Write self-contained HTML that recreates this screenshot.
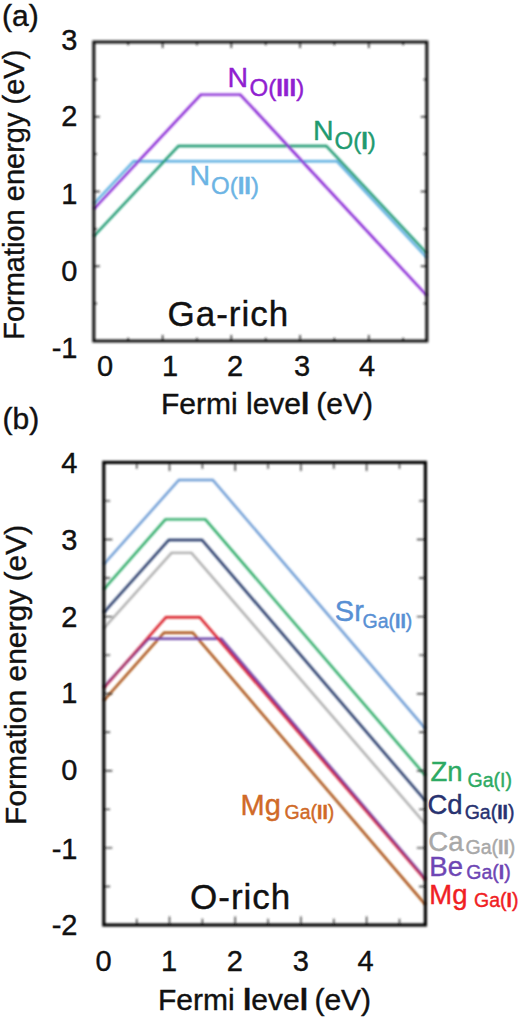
<!DOCTYPE html>
<html><head><meta charset="utf-8"><style>
html,body{margin:0;padding:0;background:#fff;}
body{width:520px;height:1019px;overflow:hidden;}
svg{display:block;}
text{font-family:"Liberation Sans", sans-serif;stroke-width:0.4;}
</style></head><body>
<svg width="520" height="1019" viewBox="0 0 520 1019">
<defs>
<filter id="bl"><feGaussianBlur stdDeviation="0.8"/></filter>
<filter id="bt"><feGaussianBlur stdDeviation="0.8"/></filter>
</defs>
<rect width="520" height="1019" fill="#fff"/>
<g filter="url(#bl)">
<polyline points="93.8,203.8 133.6,161.2 336.8,161.2 426.8,257.8" fill="none" stroke="#5aaee0" stroke-width="2.4" stroke-linejoin="miter"/>
<polyline points="93.8,236.2 178.5,146.0 326.3,146.0 426.8,253.2" fill="none" stroke="#14956a" stroke-width="2.4" stroke-linejoin="miter"/>
<polyline points="93.8,209.0 200.8,94.6 240.3,94.6 426.8,295.5" fill="none" stroke="#8420d4" stroke-width="2.4" stroke-linejoin="miter"/>
<polyline points="103.8,564.2 178.9,480.0 212.8,480.0 425.4,728.6" fill="none" stroke="#6a9ad4" stroke-width="2.4" stroke-linejoin="miter"/>
<polyline points="103.8,589.2 165.4,519.4 205.4,519.4 425.4,775.5" fill="none" stroke="#26a862" stroke-width="2.4" stroke-linejoin="miter"/>
<polyline points="103.8,628.3 171.5,552.9 191.5,552.9 425.4,824.0" fill="none" stroke="#adadad" stroke-width="2.4" stroke-linejoin="miter"/>
<polyline points="103.8,612.5 168.8,540.0 202.0,540.0 425.4,800.8" fill="none" stroke="#1e3364" stroke-width="2.4" stroke-linejoin="miter"/>
<polyline points="103.8,700.5 164.0,632.8 192.8,632.8 425.4,904.6" fill="none" stroke="#a84c08" stroke-width="2.4" stroke-linejoin="miter"/>
<polyline points="103.8,687.0 148.5,638.7 221.3,638.7 425.4,878.8" fill="none" stroke="#6c44a8" stroke-width="2.4" stroke-linejoin="miter"/>
<polyline points="103.8,688.0 166.0,617.3 199.7,617.3 425.4,880.0" fill="none" stroke="#d8141c" stroke-width="2.4" stroke-linejoin="miter"/>
<polyline points="103.8,687.0 148.5,638.7" fill="none" stroke="#6c44a8" stroke-width="2.4" stroke-linejoin="miter" stroke-opacity="0.5"/>
<polyline points="221.3,638.7 425.4,878.8" fill="none" stroke="#6c44a8" stroke-width="2.4" stroke-linejoin="miter" stroke-opacity="0.5"/>
</g>
<g filter="url(#bt)">
<path d="M93.8,79.4h3.2M426.8,79.4h-3.2M93.8,116.8h6.0M426.8,116.8h-6.0M93.8,154.1h3.2M426.8,154.1h-3.2M93.8,191.5h6.0M426.8,191.5h-6.0M93.8,228.9h3.2M426.8,228.9h-3.2M93.8,266.2h6.0M426.8,266.2h-6.0M93.8,303.6h3.2M426.8,303.6h-3.2M128.2,341.0v-3.2M128.2,42.0v3.2M162.6,341.0v-6.0M162.6,42.0v6.0M196.9,341.0v-3.2M196.9,42.0v3.2M231.3,341.0v-6.0M231.3,42.0v6.0M265.7,341.0v-3.2M265.7,42.0v3.2M300.1,341.0v-6.0M300.1,42.0v6.0M334.4,341.0v-3.2M334.4,42.0v3.2M368.8,341.0v-6.0M368.8,42.0v6.0M403.2,341.0v-3.2M403.2,42.0v3.2" stroke="#222" stroke-width="1.5" fill="none"/>
<rect x="93.8" y="42.0" width="333.0" height="299.0" fill="none" stroke="#111" stroke-width="3.0"/>
<path d="M103.8,500.9h6.3M425.4,500.9h-6.3M103.8,539.5h8.5M425.4,539.5h-8.5M103.8,578.0h6.3M425.4,578.0h-6.3M103.8,616.6h8.5M425.4,616.6h-8.5M103.8,655.1h6.3M425.4,655.1h-6.3M103.8,693.7h8.5M425.4,693.7h-8.5M103.8,732.2h6.3M425.4,732.2h-6.3M103.8,770.8h8.5M425.4,770.8h-8.5M103.8,809.4h6.3M425.4,809.4h-6.3M103.8,847.9h8.5M425.4,847.9h-8.5M103.8,886.5h6.3M425.4,886.5h-6.3M136.7,925.0v-6.3M136.7,462.4v6.3M169.5,925.0v-8.5M169.5,462.4v8.5M202.4,925.0v-6.3M202.4,462.4v6.3M235.2,925.0v-8.5M235.2,462.4v8.5M268.1,925.0v-6.3M268.1,462.4v6.3M300.9,925.0v-8.5M300.9,462.4v8.5M333.8,925.0v-6.3M333.8,462.4v6.3M366.6,925.0v-8.5M366.6,462.4v8.5M399.5,925.0v-6.3M399.5,462.4v6.3" stroke="#333" stroke-width="1.4" fill="none"/>
<rect x="103.8" y="462.4" width="321.6" height="462.6" fill="none" stroke="#000" stroke-width="3.2"/>
</g>
<g>
<text x="77.5" y="49.6" font-size="29" fill="#111" stroke="#111" text-anchor="end" >3</text>
<text x="77.5" y="126.4" font-size="29" fill="#111" stroke="#111" text-anchor="end" >2</text>
<text x="77.5" y="204.4" font-size="29" fill="#111" stroke="#111" text-anchor="end" >1</text>
<text x="77.5" y="281.4" font-size="29" fill="#111" stroke="#111" text-anchor="end" >0</text>
<text x="77.5" y="358.4" font-size="29" fill="#111" stroke="#111" text-anchor="end" >-1</text>
<text x="105" y="375.5" font-size="29" fill="#111" stroke="#111" text-anchor="middle" >0</text>
<text x="170" y="375.5" font-size="29" fill="#111" stroke="#111" text-anchor="middle" >1</text>
<text x="235" y="375.5" font-size="29" fill="#111" stroke="#111" text-anchor="middle" >2</text>
<text x="302" y="375.5" font-size="29" fill="#111" stroke="#111" text-anchor="middle" >3</text>
<text x="367" y="375.5" font-size="29" fill="#111" stroke="#111" text-anchor="middle" >4</text>
<text x="161.0" y="413.8" font-size="30" fill="#111" stroke="#111" >Fermi leve<tspan font-weight="bold">l</tspan><tspan dx="-1.5"> (eV)</tspan></text>
<text transform="translate(24.3,339.8) rotate(-90)" font-size="29" fill="#111" stroke="#111">Formation energy (eV)</text>
<text x="2.0" y="25.6" font-size="30" fill="#111" stroke="#111" >(a)</text>
<text x="167.5" y="325.5" font-size="35" fill="#111" stroke="#111" letter-spacing="1">Ga-rich</text>
<text x="227.5" y="86.6" font-size="28.5" fill="#9020d0" stroke="#9020d0" >N</text><text x="249.5" y="95.8" font-size="24" fill="#9020d0" stroke="#9020d0">O(<tspan font-weight="bold">III</tspan>)</text>
<text x="313.0" y="139.7" font-size="28.5" fill="#1f9a70" stroke="#1f9a70" >N</text><text x="334.5" y="148.5" font-size="24" fill="#1f9a70" stroke="#1f9a70">O(<tspan font-weight="bold">I</tspan>)</text>
<text x="189.5" y="184.7" font-size="28.5" fill="#6cb4e4" stroke="#6cb4e4" >N</text><text x="211.0" y="194.3" font-size="24" fill="#6cb4e4" stroke="#6cb4e4">O(<tspan font-weight="bold">II</tspan>)</text>
<text x="77.5" y="473.0" font-size="29" fill="#111" stroke="#111" text-anchor="end" >4</text>
<text x="77.5" y="550.1999999999999" font-size="29" fill="#111" stroke="#111" text-anchor="end" >3</text>
<text x="77.5" y="627.0" font-size="29" fill="#111" stroke="#111" text-anchor="end" >2</text>
<text x="77.5" y="702.6999999999999" font-size="29" fill="#111" stroke="#111" text-anchor="end" >1</text>
<text x="77.5" y="780.4" font-size="29" fill="#111" stroke="#111" text-anchor="end" >0</text>
<text x="77.5" y="859.1999999999999" font-size="29" fill="#111" stroke="#111" text-anchor="end" >-1</text>
<text x="77.5" y="935.4" font-size="29" fill="#111" stroke="#111" text-anchor="end" >-2</text>
<text x="103.5" y="970.8" font-size="29" fill="#111" stroke="#111" text-anchor="middle" >0</text>
<text x="169" y="970.8" font-size="29" fill="#111" stroke="#111" text-anchor="middle" >1</text>
<text x="234.8" y="970.8" font-size="29" fill="#111" stroke="#111" text-anchor="middle" >2</text>
<text x="300.7" y="970.8" font-size="29" fill="#111" stroke="#111" text-anchor="middle" >3</text>
<text x="365.5" y="970.8" font-size="29" fill="#111" stroke="#111" text-anchor="middle" >4</text>
<text x="158.0" y="1009.6" font-size="30" fill="#111" stroke="#111" >Fermi <tspan font-weight="bold">l</tspan>eve<tspan font-weight="bold">l</tspan><tspan dx="-2"> (eV)</tspan></text>
<text transform="translate(25.5,824.9) rotate(-90)" font-size="30" fill="#111" stroke="#111">Formation energy (eV)</text>
<text x="2.5" y="428.5" font-size="30" fill="#111" stroke="#111" >(b)</text>
<text x="190" y="909" font-size="35" fill="#111" stroke="#111" letter-spacing="1">O-rich</text>
<text x="334.8" y="620.5" font-size="29" fill="#5890d4" stroke="#5890d4">Sr</text><text x="362.5" y="627.5" font-size="19.5" fill="#5890d4" stroke="#5890d4">Ga(<tspan font-weight="bold">II</tspan>)</text>
<text x="430.5" y="781.0" font-size="27.5" fill="#2eaa64" stroke="#2eaa64">Zn</text><text x="467.6" y="786.8" font-size="19.5" fill="#2eaa64" stroke="#2eaa64">Ga(<tspan font-weight="normal">I</tspan>)</text>
<text x="427.4" y="814.2" font-size="27.5" fill="#283270" stroke="#283270">Cd</text><text x="464.7" y="818.8" font-size="19.5" fill="#283270" stroke="#283270">Ga(<tspan font-weight="bold">II</tspan>)</text>
<text x="428.3" y="850.7" font-size="27.5" fill="#a8a8a8" stroke="#a8a8a8">Ca</text><text x="465.5" y="854.3" font-size="19.5" fill="#a8a8a8" stroke="#a8a8a8">Ga(<tspan font-weight="bold">II</tspan>)</text>
<text x="429.3" y="876.0" font-size="27.5" fill="#6e46b4" stroke="#6e46b4">Be</text><text x="466.3" y="878.9" font-size="19.5" fill="#6e46b4" stroke="#6e46b4">Ga(<tspan font-weight="bold">I</tspan>)</text>
<text x="429.3" y="904.0" font-size="27.5" fill="#f01e24" stroke="#f01e24">Mg</text><text x="474.0" y="906.8" font-size="19.5" fill="#f01e24" stroke="#f01e24">Ga(<tspan font-weight="bold">I</tspan>)</text>
<text x="240.5" y="814.5" font-size="29" fill="#d06a28" stroke="#d06a28">Mg</text><text x="284.5" y="819.3" font-size="19.5" fill="#d06a28" stroke="#d06a28">Ga(<tspan font-weight="bold">II</tspan>)</text>
</g>
</svg>
</body></html>
